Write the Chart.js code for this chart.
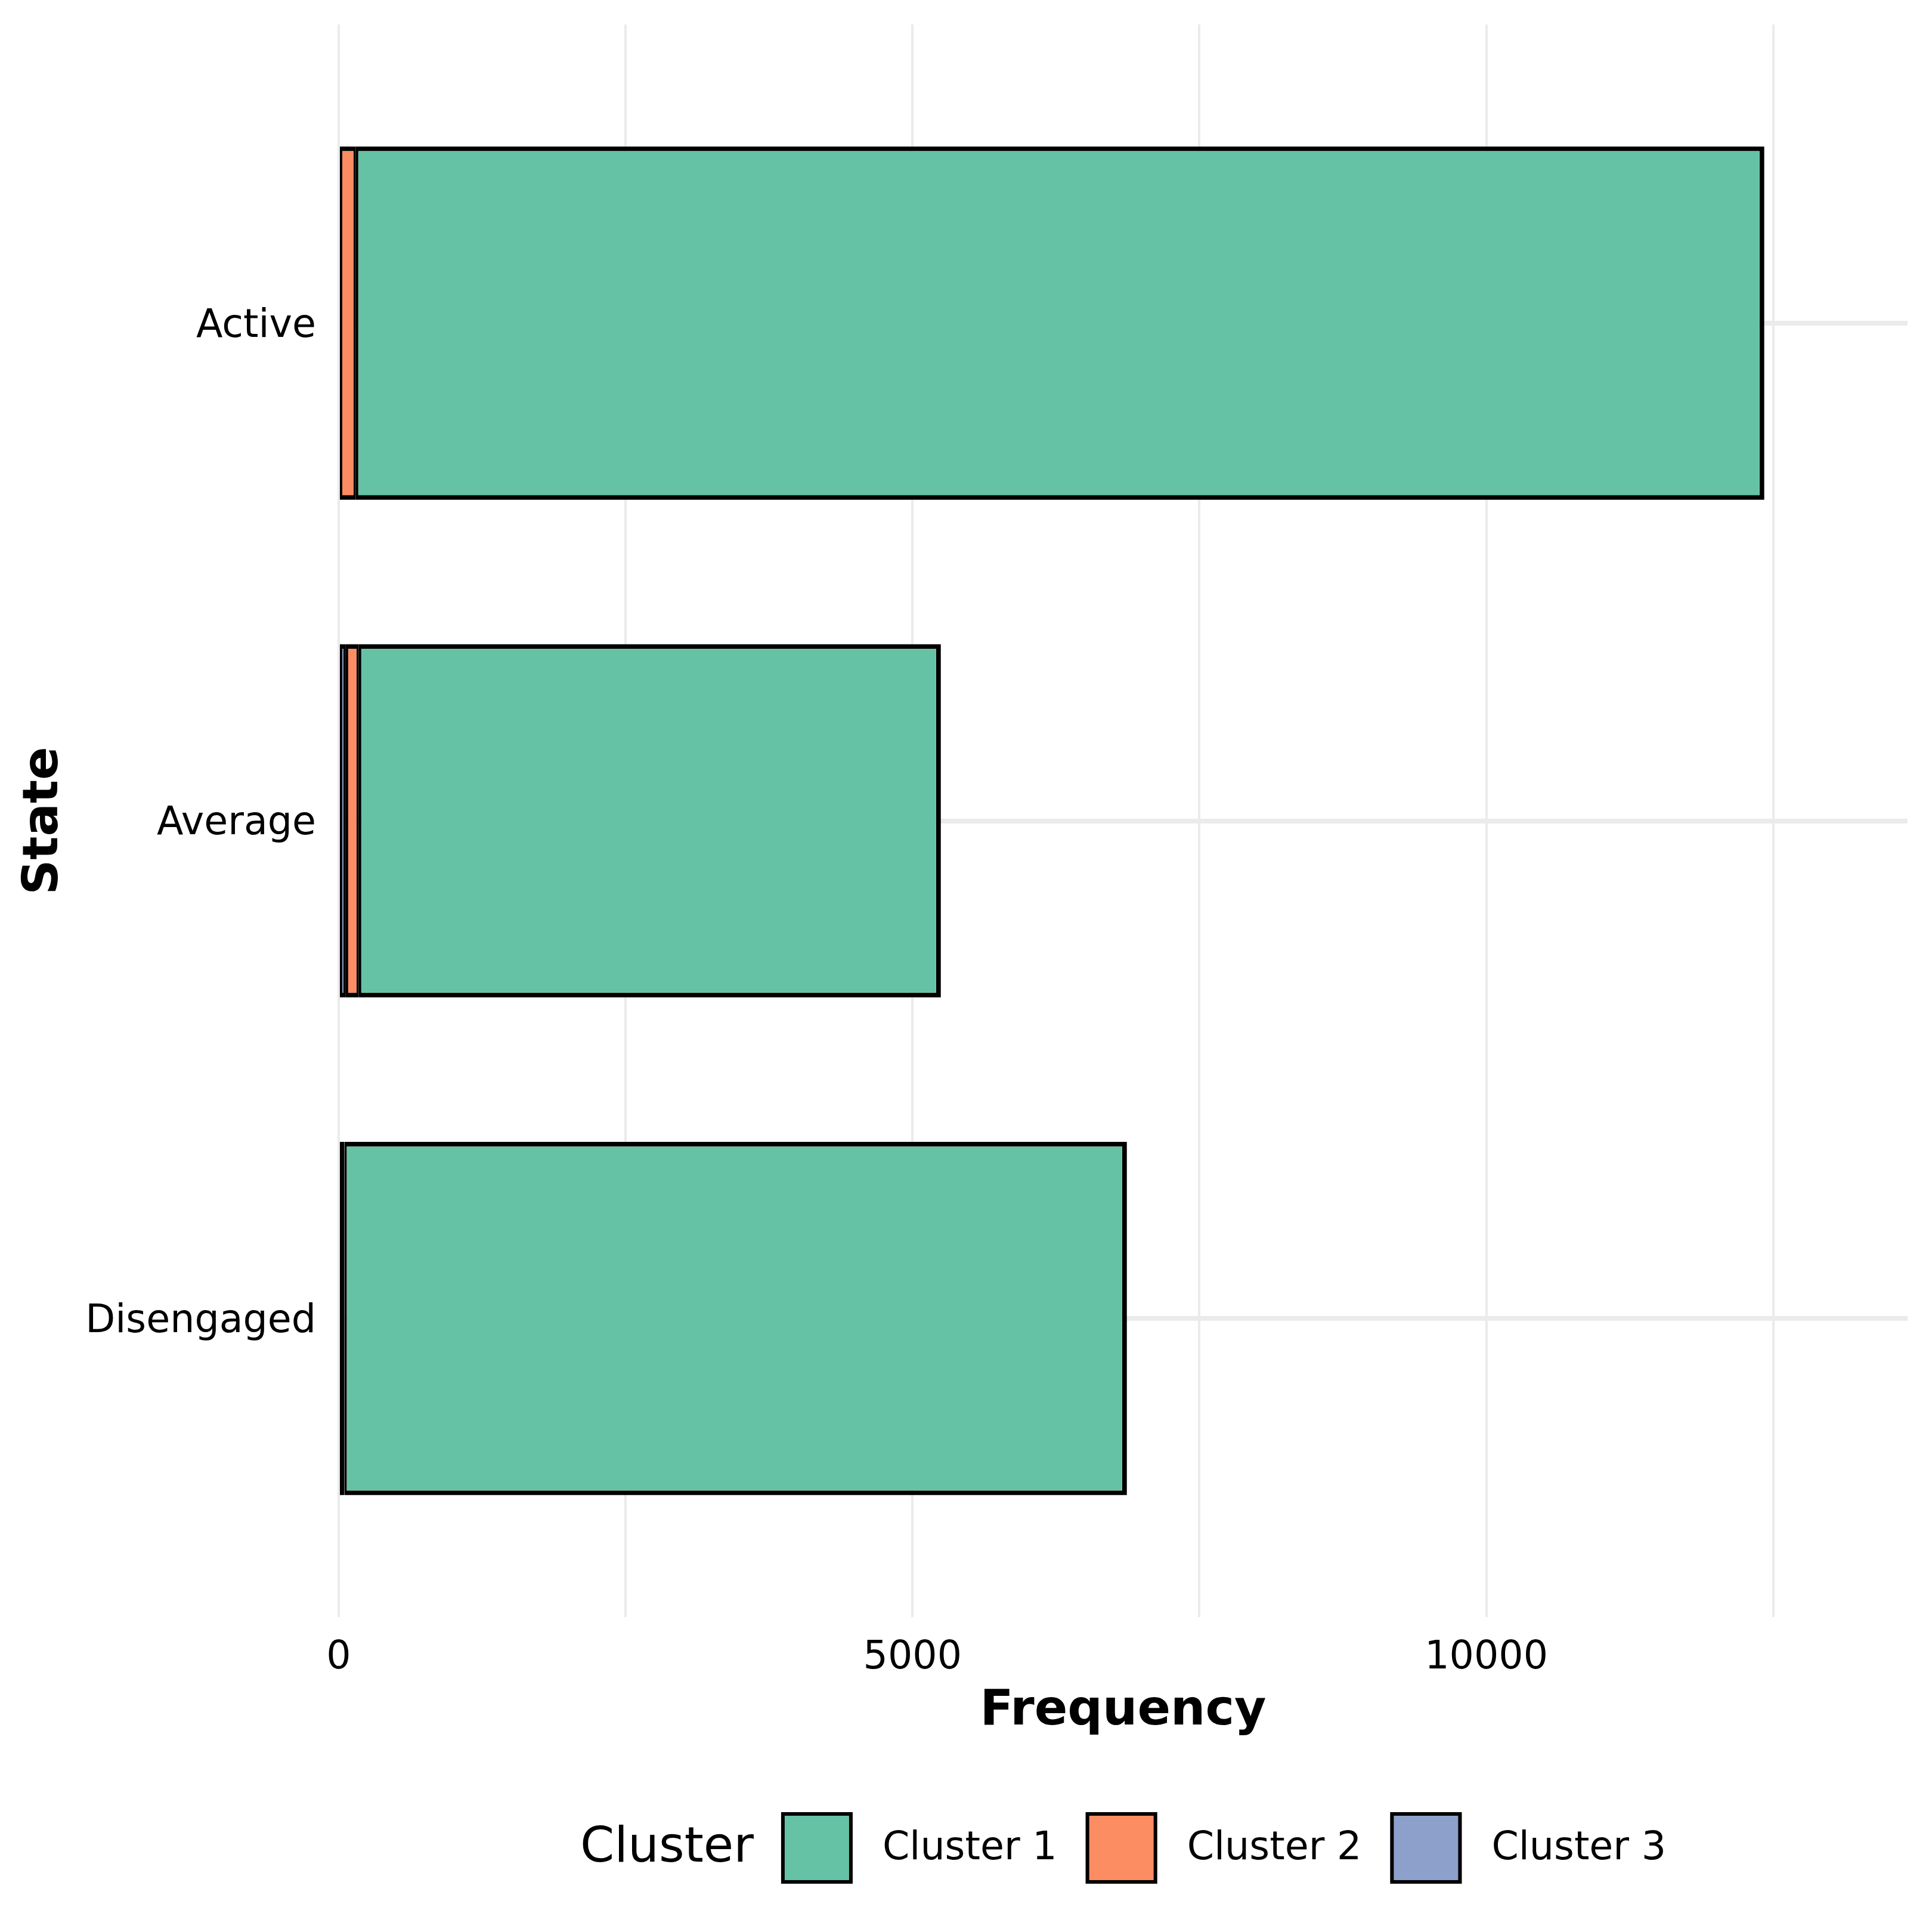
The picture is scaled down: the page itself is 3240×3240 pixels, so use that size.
<!DOCTYPE html>
<html>
<head>
<meta charset="utf-8">
<script src="https://cdn.jsdelivr.net/npm/chart.js@4.4.1/dist/chart.umd.min.js"></script>
<style>
  html, body { margin: 0; padding: 0; background: #fff; }
  canvas { display: block; }
</style>
</head>
<body>
<canvas id="stateChart" width="3240" height="3240"></canvas>
<script>
// Categories, top to bottom
const states = ['Active', 'Average', 'Disengaged'];

// Frequency of each cluster per state
const cluster1 = [12272, 5071, 6818];
const cluster2 = [150, 114, 50];
const cluster3 = [0, 62, 0];

const clusterNames = ['Cluster 1', 'Cluster 2', 'Cluster 3'];
const clusterColors = ['#66c2a5', '#fc8d62', '#8da0cb'];

// x axis: grid every 2500, labels every 5000
const xGridTicks = [0, 2500, 5000, 7500, 10000, 12500];
const xLabelTicks = [0, 5000, 10000];
const xMax = 13670;

const FONT = '"DejaVu Sans", "Noto Sans", sans-serif';

// stack order like ggplot: Cluster 3 sits at 0, Cluster 1 on the outside
const values = [cluster1, cluster2, cluster3];
const datasets = [2, 1, 0].map(k => ({
    label: clusterNames[k],
    data: states.map((s, i) => ({ x: values[k][i], y: i })),
    backgroundColor: clusterColors[k],
    borderColor: '#000000',
    borderWidth: { top: 8, bottom: 8, left: 4, right: k === 0 ? 8 : 4 },
    borderSkipped: false,
    categoryPercentage: 0.71,
    barPercentage: 1.0
}));

// legend drawn on the canvas: title on the left, keys in a row
const clusterLegend = {
    id: 'clusterLegend',
    afterDraw(chart) {
        const c = chart.ctx;
        const area = chart.chartArea;
        const cy = chart.height - 141;
        const box = 120;
        c.save();
        c.textBaseline = 'middle';
        c.fillStyle = '#000';

        c.font = '82px ' + FONT;
        const titleW = c.measureText('Cluster').width;
        c.font = '65px ' + FONT;
        const labelW = clusterNames.map(n => c.measureText(n).width);
        let total = titleW + 46;
        labelW.forEach((w, i) => { total += box + 50 + w + (i < labelW.length - 1 ? 48 : 0); });

        let x = (area.left + area.right) / 2 - total / 2;
        c.font = '82px ' + FONT;
        c.textAlign = 'left';
        c.fillText('Cluster', x, cy + 2);
        x += titleW + 46;

        c.font = '65px ' + FONT;
        clusterNames.forEach((name, i) => {
            c.fillStyle = clusterColors[i];
            c.fillRect(x, cy - box / 2, box, box);
            c.lineWidth = 6;
            c.strokeStyle = '#000';
            c.strokeRect(x + 3, cy - box / 2 + 3, box - 6, box - 6);
            x += box + 50;
            c.fillStyle = '#000';
            c.fillText(name, x, cy + 2);
            x += labelW[i] + 48;
        });
        c.restore();
    }
};

const ctx = document.getElementById('stateChart').getContext('2d');
const chart = new Chart(ctx, {
    type: 'bar',
    data: { datasets: datasets },
    options: {
        indexAxis: 'y',
        responsive: false,
        devicePixelRatio: 1,
        animation: false,
        layout: { padding: { top: 41, right: 41, bottom: 250, left: 0 } },
        plugins: {
            legend: { display: false },
            tooltip: { enabled: false }
        },
        scales: {
            x: {
                type: 'linear',
                stacked: true,
                min: 0,
                max: xMax,
                border: { display: false },
                grid: { color: '#ebebeb', lineWidth: 4, drawTicks: false },
                afterBuildTicks: s => { s.ticks = xGridTicks.map(v => ({ value: v })); },
                ticks: {
                    autoSkip: false,
                    maxRotation: 0,
                    padding: 30,
                    color: '#000',
                    font: { family: FONT, size: 65 },
                    callback: v => xLabelTicks.includes(v) ? String(v) : ''
                },
                title: {
                    display: true,
                    text: 'Frequency',
                    color: '#000',
                    font: { family: FONT, size: 82, weight: 'bold' },
                    padding: { top: 0, bottom: 70 }
                },
                afterFit: s => {
                    s.height = 278;
                    s.paddingLeft = 0;
                    s.paddingRight = 0;
                }
            },
            y: {
                type: 'linear',
                stacked: true,
                reverse: true,
                offset: false,
                min: -0.6,
                max: 2.6,
                border: { display: false },
                grid: { color: '#ebebeb', lineWidth: 8, drawTicks: false, offset: false },
                afterBuildTicks: s => { s.ticks = states.map((st, i) => ({ value: i })); },
                ticks: {
                    autoSkip: false,
                    padding: 38,
                    labelOffset: 6,
                    color: '#000',
                    font: { family: FONT, size: 65 },
                    callback: v => states[v] !== undefined ? states[v] : ''
                },
                title: {
                    display: true,
                    text: 'State',
                    color: '#000',
                    font: { family: FONT, size: 82, weight: 'bold' },
                    padding: { top: 26, bottom: 0 }
                },
                afterFit: s => {
                    s.width = 568;
                    s.paddingTop = 0;
                    s.paddingBottom = 0;
                }
            }
        }
    },
    plugins: [clusterLegend]
});
</script>
</body>
</html>
